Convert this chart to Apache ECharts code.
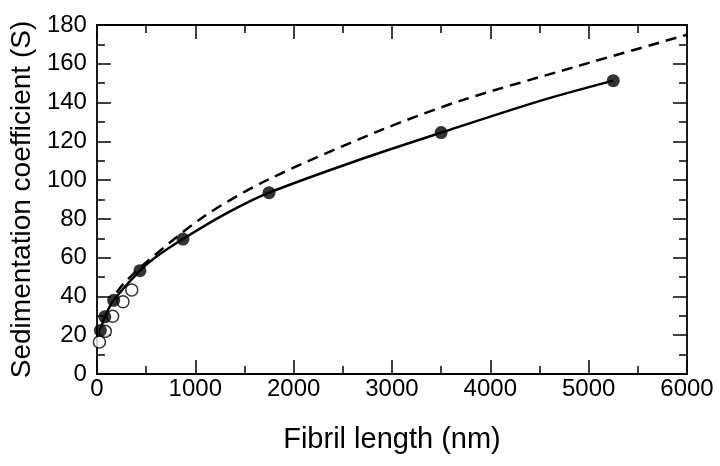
<!DOCTYPE html>
<html>
<head>
<meta charset="utf-8">
<script src="https://cdn.jsdelivr.net/npm/echarts@6/dist/echarts.min.js"></script>
<style>
html,body{margin:0;padding:0;background:#fff;}
#chart{width:720px;height:466px;}
</style>
</head>
<body>
<div id="chart"></div>
<script>
// Data
const filledLength = [35, 80, 170, 437, 875, 1750, 3500, 5250];
const filledS      = [22.5, 29.5, 38, 53.3, 69.6, 93.5, 124.5, 151.3];
const openLength   = [25, 85, 160, 265, 354];
const openS        = [16.5, 22, 29.8, 37.3, 43.3];
// solid fitted curve, sampled along the drawn line
const solidLength  = [35, 80, 170, 437, 576, 875, 1316, 1750, 2697, 3500, 4515, 5250];
const solidS       = [22.5, 29.5, 38, 53.3, 59.5, 69.6, 82.8, 93.5, 111, 124.5, 141, 151.3];
// dashed curve, sampled along the drawn line
const dashLength   = [200, 270, 475, 1081, 1750, 2900, 3700, 4870, 6000];
const dashS        = [42, 46.5, 56.5, 81, 100.5, 126, 141, 158.5, 175];
const xTitle = 'Fibril length (nm)';
const yTitle = 'Sedimentation coefficient (S)';

const pair = (xs, ys) => xs.map((x, i) => [x, ys[i]]);
const font = 'Liberation Sans, Arial, Helvetica, sans-serif';
const axisLine = {show: true, onZero: false, lineStyle: {color: '#000', width: 1.8}};
const major = {show: true, inside: true, length: 14, lineStyle: {color: '#000', width: 1.5}};
const minor = {show: true, splitNumber: 2, length: 8, lineStyle: {color: '#000', width: 1.5}};
const plain = v => String(v);

const chart = echarts.init(document.getElementById('chart'), null, {renderer: 'canvas'});
chart.setOption({
  animation: false,
  backgroundColor: '#fff',
  grid: {left: 93, right: 33, top: 25, bottom: 92, containLabel: false},
  xAxis: [
    {type: 'value', min: 0, max: 6000, interval: 1000, position: 'bottom',
     axisLine, axisTick: major, minorTick: minor, splitLine: {show: false},
     axisLabel: {color: '#000', fontSize: 24, fontFamily: font, margin: 3, formatter: plain},
     name: xTitle, nameLocation: 'middle', nameGap: 51,
     nameTextStyle: {color: '#000', fontSize: 29, fontFamily: font}},
    {type: 'value', min: 0, max: 6000, interval: 1000, position: 'top',
     axisLine, axisTick: major, minorTick: minor, splitLine: {show: false},
     axisLabel: {show: false}}
  ],
  yAxis: [
    {type: 'value', min: 0, max: 180, interval: 20, position: 'left',
     axisLine, axisTick: major, minorTick: minor, splitLine: {show: false},
     axisLabel: {color: '#000', fontSize: 24, fontFamily: font, margin: 10, formatter: plain},
     name: yTitle, nameLocation: 'middle', nameGap: 60,
     nameTextStyle: {color: '#000', fontSize: 28, fontFamily: font}},
    {type: 'value', min: 0, max: 180, interval: 20, position: 'right',
     axisLine, axisTick: major, minorTick: minor, splitLine: {show: false},
     axisLabel: {show: false}}
  ],
  series: [
    {type: 'line', data: pair(dashLength, dashS), smooth: 0.3, symbol: 'none',
     lineStyle: {color: '#000', width: 2.5, type: [11, 7]}, z: 2},
    {type: 'line', data: pair(solidLength, solidS), smooth: 0.3,
     symbol: 'none', lineStyle: {color: '#000', width: 2.5}, z: 2},
    {type: 'scatter', data: pair(openLength, openS), symbol: 'circle', symbolSize: 12,
     itemStyle: {color: '#fff', borderColor: '#000', borderWidth: 1.5}, z: 3},
    {type: 'scatter', data: pair(filledLength, filledS), symbol: 'circle', symbolSize: 13,
     itemStyle: {color: '#000'}, z: 4}
  ]
});
</script>
</body>
</html>
